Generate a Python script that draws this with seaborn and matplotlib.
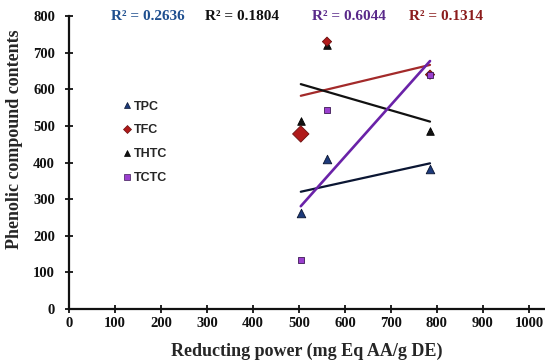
import matplotlib
matplotlib.use("Agg")
import matplotlib.pyplot as plt
import pandas as pd
import seaborn as sns
from matplotlib.lines import Line2D

# Reducing power of the extracts (x) and their phenolic contents (y)
reducing_power = [504, 561, 785]
tpc = [262, 409, 383]
tfc = [478, 730, 640]
thtc = [513, 720, 486]
tctc = [135, 544, 640]

series_names = ["TPC", "TFC", "THTC", "TCTC"]
r2_series = ["TPC", "THTC", "TCTC", "TFC"]
r2_values = ["0.2636", "0.1804", "0.6044", "0.1314"]
x_ticks = list(range(0, 1001, 100))
y_ticks = list(range(0, 801, 100))

values = {"TPC": tpc, "TFC": tfc, "THTC": thtc, "TCTC": tctc}
frames = [pd.DataFrame({"x": reducing_power, "y": v, "series": k}) for k, v in values.items()]
df = pd.concat(frames, ignore_index=True)

style = {
    "TPC":  dict(marker="^", face="#1d3a7a", edge="#0a1530", line="#0b1633", lw=1.6, s=38, text="#1f4f8f"),
    "TFC":  dict(marker="D", face="#b01a1a", edge="#6a0f0f", line="#a32a2a", lw=1.6, s=22, text="#8b1c1c"),
    "THTC": dict(marker="^", face="#111111", edge="#000000", line="#111111", lw=1.6, s=30, text="#111111"),
    "TCTC": dict(marker="s", face="#9b3fcf", edge="#3d1a55", line="#6a22a8", lw=1.9, s=22, text="#5a2a8a"),
}
# the first TFC point is drawn with a larger marker
tfc_sizes = [70, 22, 22]

sns.set_style("white")
plt.rcParams["font.family"] = ["Liberation Serif", "DejaVu Serif"]

fig = plt.figure(figsize=(5.45, 3.64), dpi=100)
ax = fig.add_axes([0.1266, 0.151, 0.8734, 0.805])

# linear trend lines
for name in ["TPC", "TFC", "THTC", "TCTC"]:
    st = style[name]
    sub = df[df["series"] == name]
    sns.regplot(data=sub, x="x", y="y", ax=ax, ci=None, scatter=False, truncate=True,
                line_kws=dict(color=st["line"], lw=st["lw"], zorder=2))

# data points
for name in ["THTC", "TFC", "TCTC", "TPC"]:
    st = style[name]
    sub = df[df["series"] == name]
    sizes = tfc_sizes if name == "TFC" else st["s"]
    ax.scatter(sub["x"], sub["y"], marker=st["marker"], s=sizes, c=st["face"],
               edgecolors=st["edge"], linewidths=0.6, zorder=3)

# coefficient of determination labels
r2_x = [171, 376, 609, 819]
for name, val, xp in zip(r2_series, r2_values, r2_x):
    ax.text(xp, 800, f"R² = {val}", color=style[name]["text"], fontsize=11,
            fontweight="bold", ha="center", va="center", clip_on=False)

ax.set_xlim(0, 1035)
ax.set_ylim(0, 800)
ax.set_xticks(x_ticks)
ax.set_yticks(y_ticks)
ax.tick_params(axis="both", direction="inout", length=6, width=1.3, colors="#111111",
               labelsize=10.5, bottom=True, left=True)
ax.tick_params(axis="y", pad=7)
ax.tick_params(axis="x", pad=3)
for lab in ax.get_xticklabels() + ax.get_yticklabels():
    lab.set_fontweight("bold")
for side in ["top", "right"]:
    ax.spines[side].set_visible(False)
for side in ["left", "bottom"]:
    ax.spines[side].set_color("#111111")
    ax.spines[side].set_linewidth(1.6)

ax.set_xlabel("Reducting power (mg Eq AA/g DE)", fontsize=13, fontweight="bold", labelpad=9)
ax.set_ylabel("Phenolic compound contents", fontsize=13, fontweight="bold")
ax.yaxis.set_label_coords(-0.097, 0.58)

handles = []
for name in series_names:
    st = style[name]
    handles.append(Line2D([], [], ls="none", marker=st["marker"], markersize=5 if st["marker"] != "D" else 4,
                          markerfacecolor=st["face"], markeredgecolor=st["edge"], markeredgewidth=0.5,
                          label=name))
ax.legend(handles=handles, loc="upper left", bbox_to_anchor=(0.09, 0.75), frameon=False,
          handlelength=0.6, handletextpad=0.3, labelspacing=0.95,
          prop=dict(family="Liberation Sans", weight="bold", size=9))

fig.savefig("out.png", dpi=100)
